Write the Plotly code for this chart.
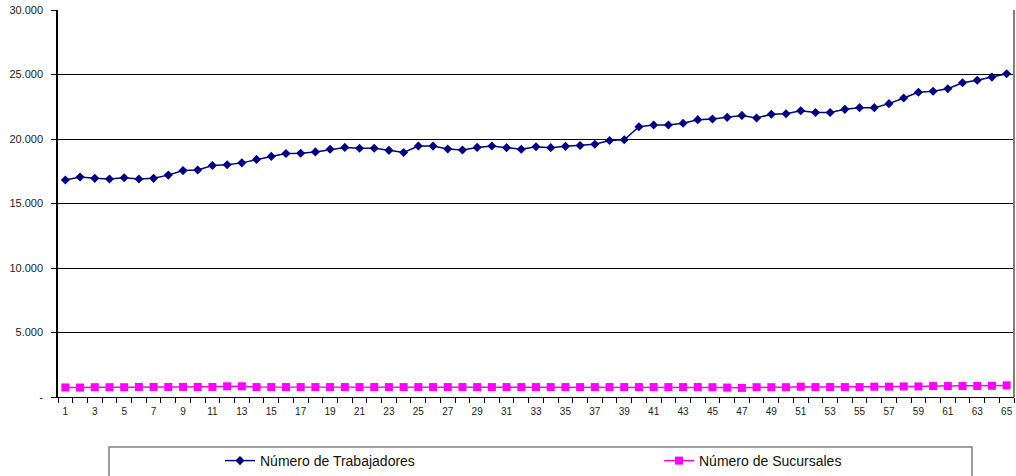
import plotly.graph_objects as go

# Periodo (1..65)
periodos = list(range(1, 66))

trabajadores = [
    16820, 17050, 16950, 16900, 17000, 16900, 16950, 17200, 17550, 17600,
    17950, 18000, 18150, 18420, 18650, 18880, 18900, 19000, 19200, 19350,
    19280, 19280, 19120, 18950, 19460, 19450, 19220, 19150, 19350, 19460,
    19330, 19200, 19400, 19330, 19430, 19500, 19590, 19880, 19940, 20950,
    21090, 21080, 21220, 21500, 21550, 21680, 21830, 21630, 21920, 21960,
    22190, 22060, 22060, 22300, 22430, 22430, 22740, 23180, 23620, 23700,
    23900, 24360, 24550, 24800, 25060,
]

sucursales = [
    740, 730, 760, 760, 760, 780, 780, 780, 780, 780,
    780, 830, 830, 770, 770, 770, 770, 770, 770, 770,
    770, 770, 770, 770, 770, 770, 770, 770, 770, 770,
    770, 770, 770, 770, 770, 770, 770, 770, 770, 770,
    770, 770, 770, 770, 760, 730, 710, 760, 760, 760,
    800, 770, 770, 770, 770, 800, 800, 820, 820, 850,
    850, 850, 850, 870, 900,
]

y_ticks = [0, 5000, 10000, 15000, 20000, 25000, 30000]
y_ticktext = ["-", "5.000", "10.000", "15.000", "20.000", "25.000", "30.000"]
x_ticks = list(range(1, 66, 2))

font = "Liberation Sans, Arial, sans-serif"

fig = go.Figure()
fig.add_trace(go.Scatter(
    x=periodos, y=trabajadores, name="Número de Trabajadores",
    mode="lines+markers", legend="legend",
    line=dict(color="#000080", width=1.5),
    marker=dict(symbol="diamond", size=7, color="#000080"),
))
fig.add_trace(go.Scatter(
    x=periodos, y=sucursales, name="Número de Sucursales",
    mode="lines+markers", legend="legend2",
    line=dict(color="#FF00FF", width=1.5),
    marker=dict(symbol="square", size=8, color="#FF00FF"),
))

legend_style = dict(
    orientation="h", xref="container", yref="container",
    xanchor="left", y=31 / 476, yanchor="top",
    font=dict(size=14, color="#111"), itemwidth=30,
    bgcolor="rgba(0,0,0,0)",
)

fig.update_layout(
    width=1016, height=476,
    margin=dict(l=58, r=2, t=10, b=79, autoexpand=False),
    paper_bgcolor="white", plot_bgcolor="white",
    font=dict(family=font, color="#222", size=10),
    showlegend=True,
    legend=dict(x=220 / 1016, **legend_style),
    legend2=dict(x=659 / 1016, **legend_style),
    shapes=[
        # legend frame
        dict(type="rect", xref="paper", yref="paper",
             x0=(109 - 58) / 956, x1=(972 - 58) / 956,
             y0=-0.3, y1=-(447 - 397) / 387,
             line=dict(color="#808080", width=1.5)),
        # right border of plot area
        dict(type="line", xref="paper", yref="paper",
             x0=1, x1=1, y0=0, y1=1,
             line=dict(color="#808080", width=2)),
    ],
)

fig.update_xaxes(
    range=[0.5, 65.5], tickmode="array", tickvals=x_ticks,
    ticks="", showgrid=False, zeroline=False,
    showline=True, linecolor="black", linewidth=1,
    tickfont=dict(size=10), ticklabelstandoff=5,
    minor=dict(tickmode="array", tickvals=[i + 0.5 for i in range(0, 66)],
               ticks="outside", ticklen=5, tickcolor="black", showgrid=False),
)
fig.update_yaxes(
    range=[0, 30000], tickmode="array", tickvals=y_ticks, ticktext=y_ticktext,
    ticks="outside", ticklen=5, tickcolor="black",
    showgrid=True, gridcolor="black", gridwidth=1, zeroline=False,
    showline=True, linecolor="black", linewidth=1.5,
    tickfont=dict(size=11), ticklabelstandoff=6,
)

fig.write_html("out.html")
